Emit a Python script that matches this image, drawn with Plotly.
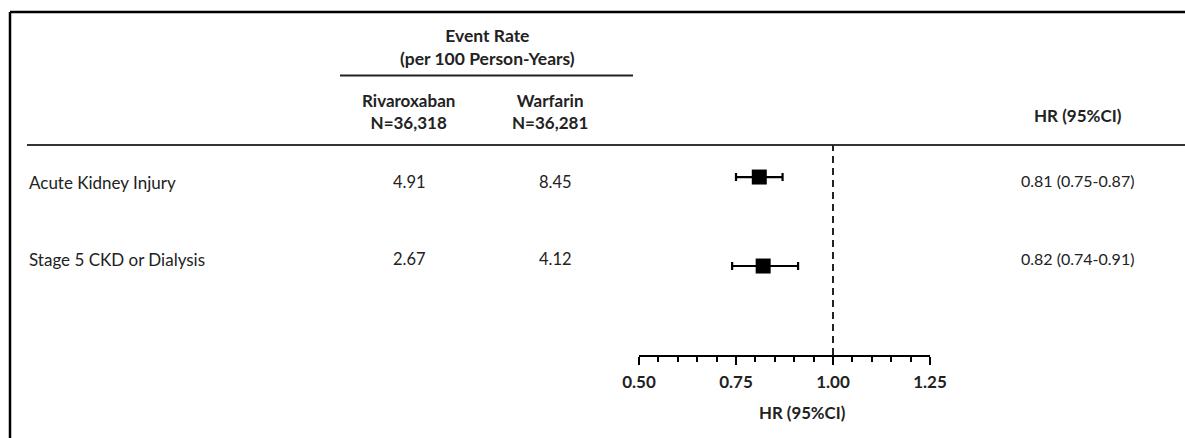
import plotly.graph_objects as go

# ---- data ----
outcomes = ["Acute Kidney Injury", "Stage 5 CKD or Dialysis"]
riva_rate = ["4.91", "2.67"]
warf_rate = ["8.45", "4.12"]
hr = [0.81, 0.82]
ci_lo = [0.75, 0.74]
ci_hi = [0.87, 0.91]
row_pos = [2, 1]
hr_text = ["0.81 (0.75-0.87)", "0.82 (0.74-0.91)"]
tick_vals = [0.50, 0.75, 1.00, 1.25]
tick_text = ["0.50", "0.75", "1.00", "1.25"]
header_group = "Event Rate<br>(per 100 Person-Years)"
col_riva = "Rivaroxaban<br>N=36,318"
col_warf = "Warfarin<br>N=36,281"
col_hr = "HR (95%CI)"
axis_title = "HR (95%CI)"

W, H = 1185, 438
FONT = "Lato"
TXT = "#222222"
text_rows = [182, 259]  # pixel rows of table text


def py(p):  # pixel-from-top -> paper fraction
    return 1 - p / H


def px(p):
    return p / W


fig = go.Figure()

fig.add_trace(go.Scatter(
    x=hr, y=row_pos, mode="markers",
    marker=dict(symbol="square", size=15, color="black"),
    error_x=dict(type="data", symmetric=False,
                 array=[h - m for h, m in zip(ci_hi, hr)],
                 arrayminus=[m - l for m, l in zip(hr, ci_lo)],
                 color="black", thickness=2.2, width=4),
    showlegend=False, hoverinfo="skip",
))

annotations = []
for name, r, w, t, yp in zip(outcomes, riva_rate, warf_rate, hr_text, text_rows):
    y = py(yp)
    annotations.append(dict(x=px(27), y=y, xref="paper", yref="paper", text=name,
                            xanchor="left", yanchor="middle", showarrow=False,
                            font=dict(size=17, color=TXT, family=FONT)))
    annotations.append(dict(x=px(409), y=y, xref="paper", yref="paper", text=r,
                            xanchor="center", yanchor="middle", showarrow=False,
                            font=dict(size=16.5, color=TXT, family=FONT)))
    annotations.append(dict(x=px(555), y=y, xref="paper", yref="paper", text=w,
                            xanchor="center", yanchor="middle", showarrow=False,
                            font=dict(size=16.5, color=TXT, family=FONT)))
    annotations.append(dict(x=px(1077), y=py(yp - 1), xref="paper", yref="paper", text=t,
                            xanchor="center", yanchor="middle", showarrow=False,
                            font=dict(size=16, color=TXT, family=FONT)))

annotations += [
    dict(x=px(487), y=py(47), xref="paper", yref="paper", text="<b>" + header_group + "</b>",
         xanchor="center", yanchor="middle", showarrow=False,
         font=dict(size=17.5, color=TXT, family=FONT)),
    dict(x=px(408), y=py(111), xref="paper", yref="paper", text="<b>" + col_riva + "</b>",
         xanchor="center", yanchor="middle", showarrow=False,
         font=dict(size=17, color=TXT, family=FONT)),
    dict(x=px(550), y=py(111), xref="paper", yref="paper", text="<b>" + col_warf + "</b>",
         xanchor="center", yanchor="middle", showarrow=False,
         font=dict(size=17, color=TXT, family=FONT)),
    dict(x=px(1078), y=py(115), xref="paper", yref="paper", text="<b>" + col_hr + "</b>",
         xanchor="center", yanchor="middle", showarrow=False,
         font=dict(size=17, color=TXT, family=FONT)),
    dict(x=px(802), y=py(412), xref="paper", yref="paper", text="<b>" + axis_title + "</b>",
         xanchor="center", yanchor="middle", showarrow=False,
         font=dict(size=16.8, color=TXT, family=FONT)),
]

shapes = [
    # frame (top and left)
    dict(type="line", xref="paper", yref="paper", x0=px(10), x1=1, y0=py(12), y1=py(12),
         line=dict(color="black", width=2.5)),
    dict(type="line", xref="paper", yref="paper", x0=px(10), x1=px(10), y0=py(12), y1=0,
         line=dict(color="black", width=2.5)),
    # group header underline
    dict(type="line", xref="paper", yref="paper", x0=px(340), x1=px(633), y0=py(75.5), y1=py(75.5),
         line=dict(color="#222", width=2)),
    # header bottom rule
    dict(type="line", xref="paper", yref="paper", x0=px(27), x1=1, y0=py(145), y1=py(145),
         line=dict(color="#333", width=2)),
    # reference line at HR = 1
    dict(type="line", xref="x", yref="y domain", x0=1, x1=1, y0=0, y1=1,
         line=dict(color="#222", width=2, dash="7px,5px")),
]

fig.update_layout(
    width=W, height=H,
    margin=dict(l=0, r=0, t=0, b=0, pad=0, autoexpand=False),
    paper_bgcolor="white", plot_bgcolor="white",
    annotations=annotations, shapes=shapes,
    xaxis=dict(domain=[px(639), px(930)], range=[0.5, 1.25],
               showline=True, linecolor="black", linewidth=2,
               ticks="outside", ticklen=8, tickwidth=2, tickcolor="black",
               tickvals=tick_vals, ticktext=["<b>%s</b>" % t for t in tick_text],
               tickfont=dict(size=17, color=TXT, family=FONT),
               ticklabelstandoff=3,
               minor=dict(dtick=0.05, tick0=0.5, ticks="outside", ticklen=5,
                          tickwidth=2, tickcolor="black", showgrid=False),
               showgrid=False, zeroline=False, anchor="y", fixedrange=True,
               automargin=False),
    yaxis=dict(domain=[py(355), py(145)], range=[0, 2.36],
               visible=False, showgrid=False, zeroline=False, fixedrange=True,
               automargin=False),
)

fig.write_html("out.html", config={"displayModeBar": False},
               post_script="document.body.style.margin='0';document.body.style.overflow='hidden';")
